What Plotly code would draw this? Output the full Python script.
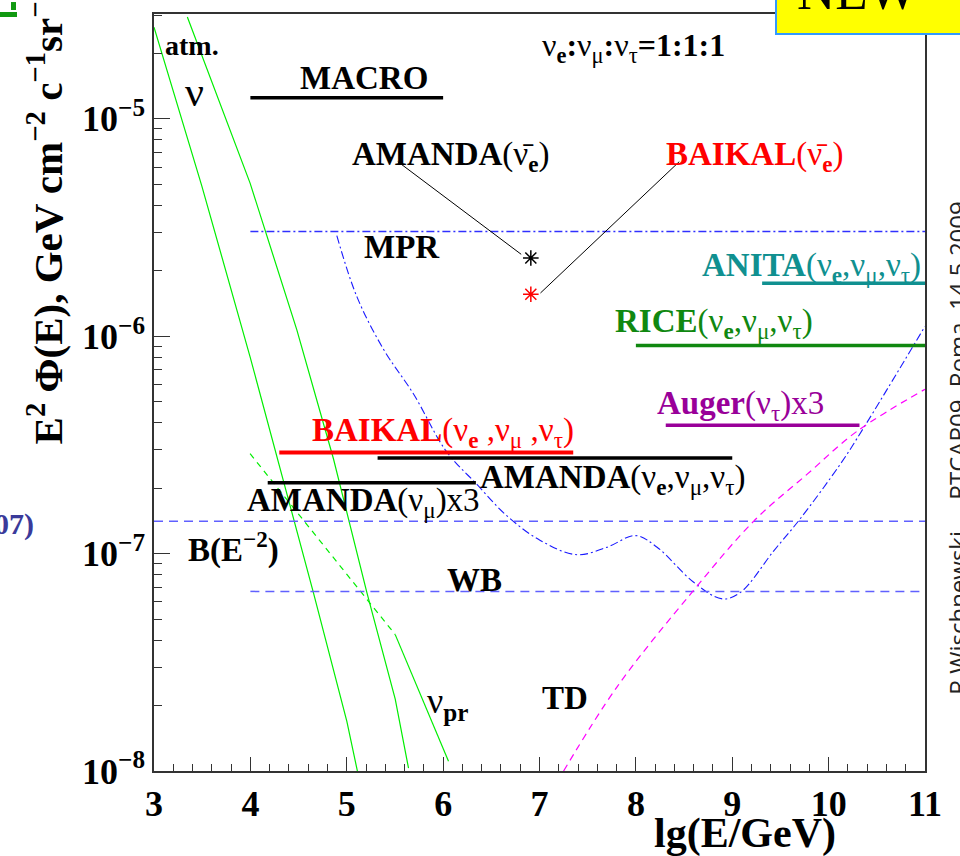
import plotly.graph_objects as go
import numpy as np

# ---------------- data ----------------
# atmospheric neutrino curves (lg E, E^2 Phi)
atm_nu_1_x = [3.00, 3.495, 3.997, 4.447, 4.654, 5.001, 5.121]
atm_nu_1_y = [2.64e-5, 4.93e-6, 8.04e-7, 1.456e-7, 6.62e-8, 1.69e-8, 9.5e-9]
atm_nu_2_x = [3.346, 3.997, 4.482, 4.862, 5.209, 5.503, 5.641]
atm_nu_2_y = [2.94e-5, 5.06e-6, 1.07e-6, 2.73e-7, 6.62e-8, 2.14e-8, 1.03e-8]
prompt_dash_x = [3.997, 5.503]
prompt_dash_y = [2.88e-7, 4.24e-8]
prompt_solid_x = [5.503, 6.056]
prompt_solid_y = [4.24e-8, 1.11e-8]

# MPR model curve
mpr_x = [4.897, 5.105, 5.381, 5.693, 6.032, 6.351, 6.663, 7.008, 7.389, 7.701,
         7.995, 8.220, 8.600, 8.895, 9.085, 9.431, 9.691, 10.124, 10.362, 11.0]
mpr_y = [2.9e-6, 1.52e-6, 8.71e-7, 5.42e-7, 2.96e-7, 2.08e-7, 1.49e-7, 1.15e-7, 9.88e-8, 1.07e-7,
         1.21e-7, 1.07e-7, 7.38e-8, 6.19e-8, 6.63e-8, 1.03e-7, 1.42e-7, 2.59e-7, 3.78e-7, 1.11e-6]
# TD model curve
td_x = [7.25, 7.805, 8.59, 9.223, 9.778, 10.297, 11.0]
td_y = [1.0e-8, 2.44e-8, 6.7e-8, 1.41e-7, 2.32e-7, 3.66e-7, 5.7e-7]

# horizontal reference levels
mpr_level_x = [4.0, 11.0]; mpr_level_y = 3.03e-6
be2_level_x = [3.0, 11.0]; be2_level_y = 1.41e-7
wb_level_x = [4.0, 11.0]; wb_level_y = 6.7e-8

# experimental limits (x range, level)
macro_x = [4.0, 6.0]; macro_y = 1.25e-5
anita_x = [9.31, 11.0]; anita_y = 1.75e-6
rice_x = [8.0, 11.0]; rice_y = 9.06e-7
auger_x = [8.31, 10.32]; auger_y = 3.89e-7
baikal_x = [4.30, 7.35]; baikal_y = 2.92e-7
amanda3_x = [5.32, 9.00]; amanda3_y = 2.75e-7
amandamu_x = [4.18, 6.34]; amandamu_y = 2.12e-7

# single points (anti-nu_e resonance)
amanda_pt = (6.91, 2.29e-6)
baikal_pt = (6.91, 1.56e-6)
amanda_ptr_x = [5.53, 6.81]; amanda_ptr_y = [6.35e-6, 2.38e-6]
baikal_ptr_x = [8.45, 7.01]; baikal_ptr_y = [6.35e-6, 1.58e-6]

x_ticks = [3, 4, 5, 6, 7, 8, 9, 10, 11]
y_ticks = [1e-8, 1e-7, 1e-6, 1e-5]
y_ticktext = ["10<sup>−8</sup>", "10<sup>−7</sup>", "10<sup>−6</sup>", "10<sup>−5</sup>"]

SERIF = "Liberation Serif"
fig = go.Figure()


def line(x, y, color, width, dash="solid", shape="linear"):
    fig.add_trace(go.Scatter(x=x, y=y, mode="lines",
                             line=dict(color=color, width=width, dash=dash, shape=shape),
                             hoverinfo="skip"))


GREEN = "#00ee00"
line(atm_nu_1_x, atm_nu_1_y, GREEN, 1.2)
line(atm_nu_2_x, atm_nu_2_y, GREEN, 1.2)
line(prompt_dash_x, prompt_dash_y, GREEN, 1.2, dash="6px,5px")
line(prompt_solid_x, prompt_solid_y, GREEN, 1.2)

line(mpr_level_x, [mpr_level_y] * 2, "#3030ff", 1.3, dash="8px,3px,2px,3px")
line(mpr_x, mpr_y, "#1a1aff", 1.1, dash="8px,3px,2px,3px", shape="spline")
line(be2_level_x, [be2_level_y] * 2, "#6060ff", 1.5, dash="9px,6px")
line(wb_level_x, [wb_level_y] * 2, "#6060ff", 1.5, dash="9px,6px")
line(td_x, td_y, "#ff00ff", 1.2, dash="7px,5px", shape="spline")

line(macro_x, [macro_y] * 2, "black", 3.5)
line(anita_x, [anita_y] * 2, "#109090", 3.5)
line(rice_x, [rice_y] * 2, "#108810", 3.5)
line(auger_x, [auger_y] * 2, "#990099", 3.5)
line(baikal_x, [baikal_y] * 2, "#ff0000", 4)
line(amanda3_x, [amanda3_y] * 2, "black", 3.5)
line(amandamu_x, [amandamu_y] * 2, "black", 3.5)

line(amanda_ptr_x, amanda_ptr_y, "black", 1)
line(baikal_ptr_x, baikal_ptr_y, "black", 1)
fig.add_trace(go.Scatter(x=[amanda_pt[0]], y=[amanda_pt[1]], mode="markers",
                         marker=dict(symbol="asterisk-open", size=13, color="black",
                                     line=dict(color="black", width=1.5)), hoverinfo="skip"))
fig.add_trace(go.Scatter(x=[baikal_pt[0]], y=[baikal_pt[1]], mode="markers",
                         marker=dict(symbol="asterisk-open", size=13, color="#ff0000",
                                     line=dict(color="#ff0000", width=1.5)), hoverinfo="skip"))

# ---------------- layout ----------------
L, R, T, B = 154, 925, 12, 771


def pxx(px):
    return (px - L) / (R - L)


def pxy(py):
    return (B - py) / (B - T)


def label(text, px, py, size=33, color="black", anchor="left", angle=0, family=SERIF):
    fig.add_annotation(x=pxx(px), y=pxy(py), xref="paper", yref="paper", text=text,
                       showarrow=False, xanchor=anchor, yanchor="middle", textangle=angle,
                       font=dict(family=family, size=size, color=color))


nu = "ν"
label("<b>atm.</b>", 163, 44, size=28)
label(nu, 183, 90, size=42)
label("<b>MACRO</b>", 298, 76)
label(nu + "<sub><b>e</b></sub><b>:</b>" + nu + "<sub>μ</sub><b>:</b>" + nu + "<sub>τ</sub><b>=1:1:1</b>",
      540, 46, size=32)
label("<b>AMANDA</b>(ν\u0304<sub><b>e</b></sub>)", 350, 155)
label("<b>BAIKAL</b>(ν\u0304<sub><b>e</b></sub>)", 664, 155, color="#ff0000")
label("<b>MPR</b>", 362, 246)
label("<b>ANITA</b>(ν<sub><b>e</b></sub>,ν<sub>μ</sub>,ν<sub>τ</sub>)", 700, 266, color="#109090")
label("<b>RICE</b>(ν<sub><b>e</b></sub>,ν<sub>μ</sub>,ν<sub>τ</sub>)", 613, 322, color="#108810")
label("<b>Auger</b>(ν<sub>τ</sub>)x3", 655, 405, color="#990099")
label("<b>BAIKAL</b>(ν<sub><b>e</b></sub> ,ν<sub>μ</sub> ,ν<sub>τ</sub>)", 310, 432, color="#ff0000")
label("<b>AMANDA</b>(ν<sub><b>e</b></sub>,ν<sub>μ</sub>,ν<sub>τ</sub>)", 478, 479)
label("<b>AMANDA</b>(ν<sub>μ</sub>)x3", 245, 502)
label("<b>B(E<sup>−2</sup>)</b>", 186, 547)
label("<b>WB</b>", 445, 579)
label("ν<sub><b>pr</b></sub>", 425, 703, size=36)
label("<b>TD</b>", 540, 698)

# axis titles
label("<b>lg(E/GeV)</b>", 838, 834, size=42, anchor="right")
label("<b>E<sup>2</sup> Φ(E), GeV cm<sup>−2</sup> c<sup>−1</sup>sr<sup>−1</sup></b>", 45, 215,
      size=41, anchor="center", angle=-90)

# slide fragments around the chart
label("<b>07)</b>", 36, 523, size=30, color="#3a3a9a", anchor="right")
label("R.Wischnewski     RTCAP09, Roma, 14.5.2009", 958, 447, size=24, color="#222222",
      anchor="center", angle=-90, family="Open Sans")
fig.add_shape(type="rect", xref="paper", yref="paper", x0=pxx(776), x1=pxx(970), y0=pxy(32), y1=pxy(-10),
              fillcolor="#ffff00", line=dict(color="#3399ff", width=2), layer="above")
label("NEW", 857, -11, size=53, anchor="center")
fig.add_shape(type="rect", xref="paper", yref="paper", x0=pxx(0), x1=pxx(17), y0=pxy(15), y1=pxy(10),
              fillcolor="#119911", line=dict(width=0))
fig.add_shape(type="rect", xref="paper", yref="paper", x0=pxx(11), x1=pxx(16), y0=pxy(8), y1=pxy(0),
              fillcolor="#119911", line=dict(width=0))

fig.update_layout(
    width=960, height=856, margin=dict(l=L, r=960 - R, t=T, b=856 - B),
    plot_bgcolor="white", paper_bgcolor="white", showlegend=False,
    xaxis=dict(range=[3, 11], tickvals=x_ticks, ticks="inside", ticklen=14, tickwidth=1.2,
               tickcolor="#333", showgrid=False, zeroline=False, showline=True, linecolor="#333",
               linewidth=1.5, mirror=True,
               minor=dict(dtick=0.2, ticks="inside", ticklen=7, tickwidth=1, tickcolor="#333", showgrid=False),
               tickfont=dict(family=SERIF, size=36, color="black", weight="bold")),
    yaxis=dict(type="log", range=[-8, -4.518], tickvals=y_ticks, ticktext=y_ticktext,
               ticks="inside", ticklen=16, tickwidth=1.2, tickcolor="#333", showgrid=False,
               zeroline=False, showline=True, linecolor="#333", linewidth=1.5, mirror=True,
               minor=dict(dtick="D1", ticks="inside", ticklen=8, tickwidth=1, tickcolor="#333",
                          showgrid=False),
               tickfont=dict(family=SERIF, size=36, color="black", weight="bold")),
)

fig.write_html("out.html")
